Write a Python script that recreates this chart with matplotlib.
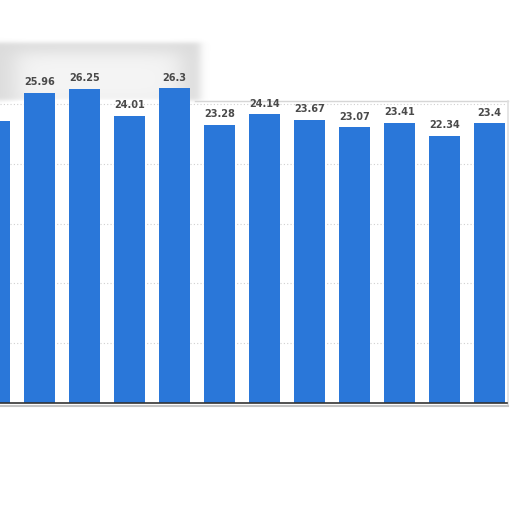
import numpy as np
import matplotlib
matplotlib.use('Agg')
import matplotlib.pyplot as plt

# ----------------------------------
# Data
# ----------------------------------
values = [23.58, 25.96, 26.25, 24.01, 26.3, 23.28, 24.14, 23.67, 23.07, 23.41, 22.34, 23.4]
labels = ['23.58', '25.96', '26.25', '24.01', '26.3', '23.28', '24.14', '23.67', '23.07', '23.41', '22.34', '23.4']
grid_ticks = [5, 10, 15, 20, 25]

bar_color = '#2a77d9'
W, H = 512, 512

fig = plt.figure(figsize=(5.12, 5.12), dpi=100)
fig.patch.set_facecolor('white')

# ----------------------------------
# Background decoration (blurred shadow, card edge)
# ----------------------------------
bg = fig.add_axes([0, 0, 1, 1], zorder=0)
bg.set_xlim(0, W)
bg.set_ylim(H, 0)
bg.axis('off')

xx, yy = np.meshgrid(np.arange(W), np.arange(H))
def soft_box(v, a, b, s):
    return 0.25 * (1 + np.tanh((v - a) / s)) * (1 + np.tanh((b - v) / s))
outer = soft_box(xx, -20, 200, 5) * soft_box(yy, 42, 100, 2.5)
inner = soft_box(xx, 15, 180, 14) * soft_box(yy, 52, 104, 9)
shade = np.clip(outer * 0.28 - inner * 0.2, 0, 1)
rgba = np.zeros((H, W, 4))
rgba[..., :3] = 0.5
rgba[..., 3] = shade
bg.imshow(rgba, extent=(0, W, H, 0), interpolation='bilinear')

# card edge lines
bg.plot([195, 508], [101, 101], color='#d6d6d6', lw=1.0)
bg.plot([508, 508], [101, 406], color='#e0e0e0', lw=1.2)
bg.plot([0, 508], [406, 406], color='#c4c4c4', lw=1.5)

# ----------------------------------
# Main bar chart
# ----------------------------------
px_per_unit = 11.96
base_px = 403
ymax = 30
ax_h = ymax * px_per_unit
ax_w = 507
ax = fig.add_axes([0, (H - base_px) / H, ax_w / W, ax_h / H], zorder=1)
ax.patch.set_alpha(0)

x = np.arange(len(values))
bars = ax.bar(x, values, width=0.69, color=bar_color, zorder=2)

x_left = 5.5 / 45
ax.set_xlim(x_left, x_left + ax_w / 45)
ax.set_ylim(0, ymax)

for t in grid_ticks:
    ax.axhline(t, color='#d0d0d0', lw=0.8, ls=(0, (1, 2)), zorder=1)

for rect, lab in zip(bars, labels):
    ax.annotate(lab, (rect.get_x() + rect.get_width() / 2, rect.get_height()),
                xytext=(0, 4), textcoords='offset points', ha='center', va='bottom',
                fontsize=7, fontweight='bold', color='#4a4a4a')

for side in ['top', 'right', 'left']:
    ax.spines[side].set_visible(False)
ax.spines['bottom'].set_color('#333333')
ax.spines['bottom'].set_linewidth(1.2)
ax.set_xticks([])
ax.set_yticks([])

fig.savefig('out.png', dpi=100, facecolor='white')
